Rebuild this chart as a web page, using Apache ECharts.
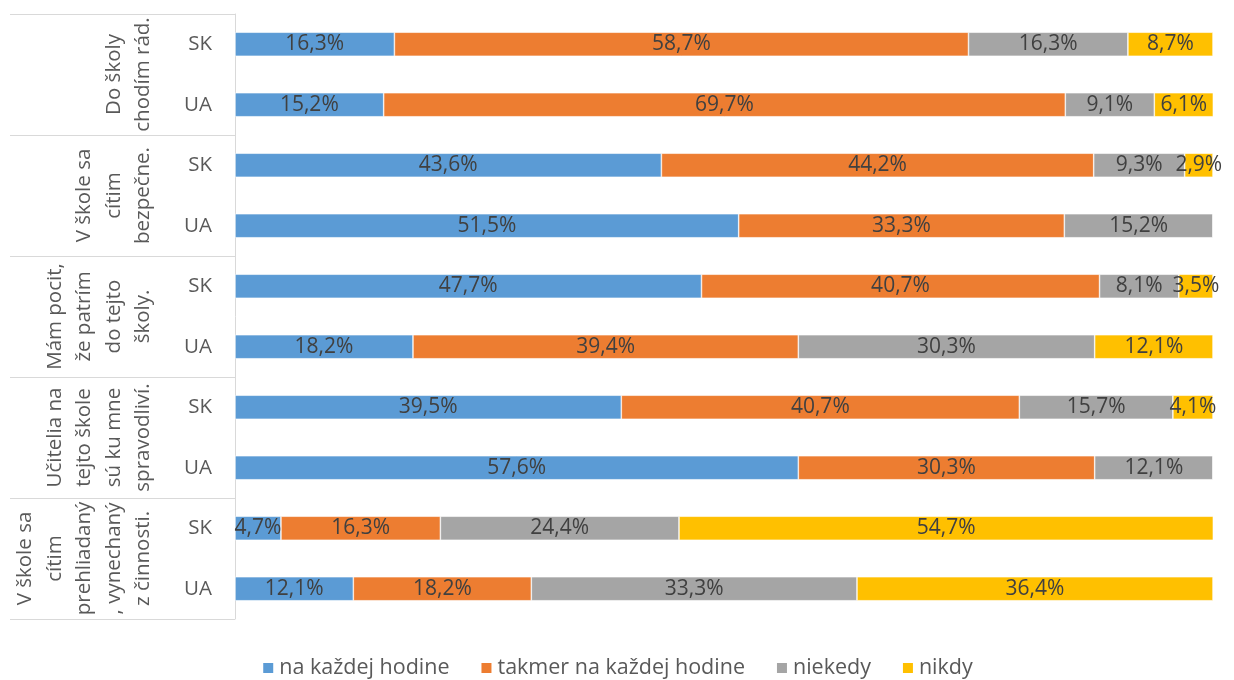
<!DOCTYPE html>
<html>
<head>
<meta charset="utf-8">
<script src="https://cdn.jsdelivr.net/npm/echarts@6/dist/echarts.min.js"></script>
<style>
  html, body { margin: 0; padding: 0; background: #fff; }
  #chart { width: 1234px; height: 680px; }
</style>
</head>
<body>
<div id="chart"></div>
<script>
// rows top to bottom, SK / UA per statement
const statements = [
  'Do školy\nchodím rád.',
  'V škole sa\ncítim\nbezpečne.',
  'Mám pocit,\nže patrím\ndo tejto\nškoly.',
  'Učitelia na\ntejto škole\nsú ku mne\nspravodliví.',
  'V škole sa\ncítim\nprehliadaný\n, vynechaný\nz činnosti.'
];
const countries = ['SK', 'UA', 'SK', 'UA', 'SK', 'UA', 'SK', 'UA', 'SK', 'UA'];

const naKazdej = [16.3, 15.2, 43.6, 51.5, 47.7, 18.2, 39.5, 57.6, 4.7, 12.1];
const takmer = [58.7, 69.7, 44.2, 33.3, 40.7, 39.4, 40.7, 30.3, 16.3, 18.2];
const niekedy = [16.3, 9.1, 9.3, 15.2, 8.1, 30.3, 15.7, 12.1, 24.4, 33.3];
const nikdy = [8.7, 6.1, 2.9, 0, 3.5, 12.1, 4.1, 0, 54.7, 36.4];

const seriesNames = ['na každej hodine', 'takmer na každej hodine', 'niekedy', 'nikdy'];
const seriesColors = ['#5B9BD5', '#ED7D31', '#A5A5A5', '#FFC000'];
const seriesData = [naKazdej, takmer, niekedy, nikdy];

const font = 'Open Sans';
const chart = echarts.init(document.getElementById('chart'));

const option = {
  animation: false,
  textStyle: { fontFamily: font },
  grid: { left: 235, right: 21, top: 14, bottom: 61 },
  legend: {
    bottom: -4,
    left: 'center',
    itemWidth: 12,
    itemHeight: 12,
    itemGap: 30,
    icon: 'rect',
    textStyle: { fontSize: 21.5, color: '#595959', fontFamily: font },
    data: seriesNames
  },
  xAxis: {
    type: 'value',
    min: 0,
    max: 100,
    show: false
  },
  yAxis: [
    {
      type: 'category',
      inverse: true,
      data: countries,
      axisLine: { show: true, lineStyle: { color: '#D9D9D9', width: 1 } },
      axisTick: { show: false },
      axisLabel: { interval: 0, margin: 23, fontSize: 20.5, color: '#595959', fontFamily: font }
    },
    {
      type: 'category',
      position: 'left',
      inverse: true,
      data: statements,
      axisLine: { show: false },
      axisTick: { show: true, interval: 0, length: 225, lineStyle: { color: '#D9D9D9', width: 1 } },
      axisLabel: {
        interval: 0,
        rotate: 90,
        margin: 77,
        fontSize: 20.5,
        lineHeight: 29.5,
        align: 'center',
        color: '#595959',
        fontFamily: font
      }
    }
  ],
  series: seriesNames.map((name, i) => ({
    name: name,
    type: 'bar',
    stack: 'total',
    barWidth: 24,
    yAxisIndex: 0,
    data: seriesData[i],
    itemStyle: { color: seriesColors[i], borderColor: '#fff', borderWidth: 0.6 },
    label: {
      show: true,
      position: 'inside',
      fontSize: 21,
      color: '#404040',
      fontFamily: font,
      formatter: p => p.value ? p.value.toFixed(1).replace('.', ',') + '%' : ''
    }
  }))
};

chart.setOption(option);
</script>
</body>
</html>
